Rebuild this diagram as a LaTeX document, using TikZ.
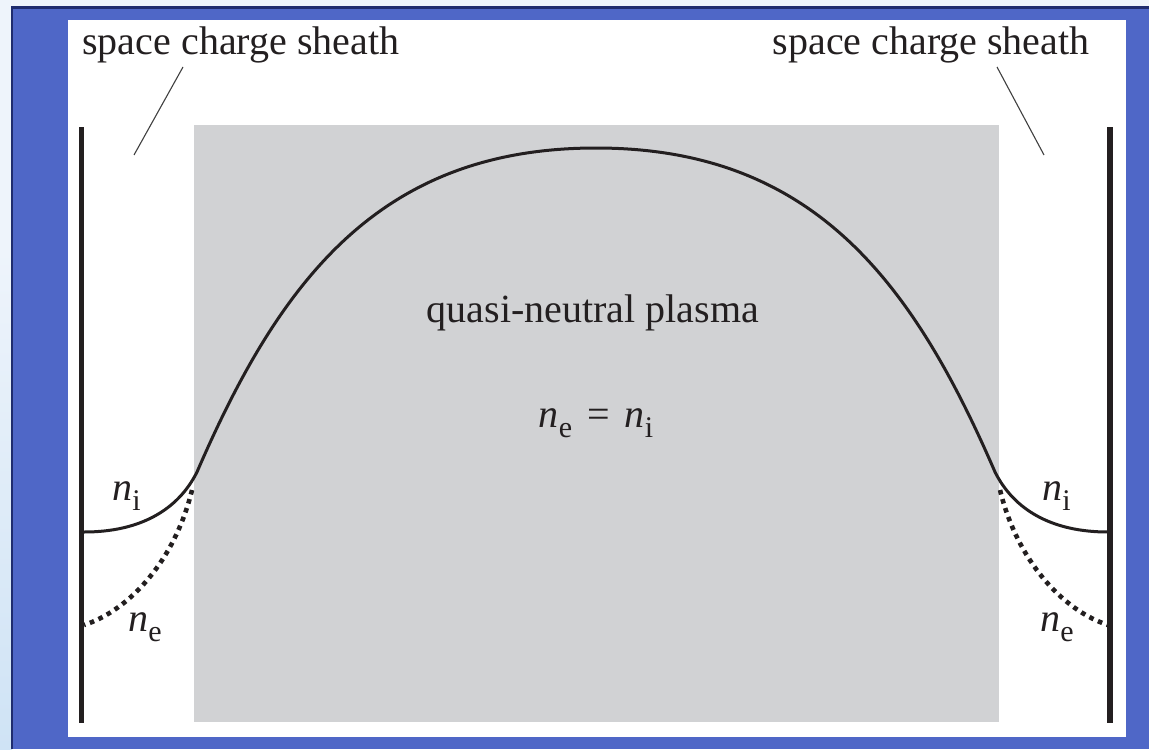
\documentclass[tikz,border=0pt]{standalone}
\usepackage{fontspec}
\setmainfont{Liberation Serif}
\usetikzlibrary{positioning}
\definecolor{slidebg}{HTML}{EEF4FB}
\definecolor{slidehaze}{HTML}{CFE3F5}
\definecolor{slideblue}{HTML}{4F67C7}
\definecolor{slidenavy}{HTML}{1F2C6E}
\definecolor{plasmagray}{HTML}{D1D2D4}
\definecolor{inkblack}{HTML}{231F20}
\tikzset{
  wallline/.style={line width=2.6pt, inkblack},
  ionprofile/.style={line width=1.5pt, inkblack},
  elecprofile/.style={line width=2.3pt, inkblack, dash pattern=on 2.3pt off 2.4pt},
  leader/.style={line width=0.55pt, black!75},
  bigtext/.style={font=\fontsize{20}{24}\selectfont, inner sep=0pt, text=inkblack}
}
\newcommand{\dens}[1]{\textit{n}\raisebox{-5pt}{\fontsize{15}{15}\selectfont #1}}

\begin{document}
\begin{tikzpicture}[x=0.5pt, y=-0.5pt]
  \useasboundingbox (0,0) rectangle (1149,749);
  % slide frame
  \fill[slidebg] (0,0) rectangle (1149,749);
  \shade[top color=slidebg, bottom color=slidehaze] (0,250) rectangle (12,749);
  \fill[slidenavy] (11,6) rectangle (1149,749);
  \fill[slideblue] (13,9) rectangle (1149,749);
  \fill[white] (68,20) rectangle (1126,737);
  \fill[plasmagray] (194,125) rectangle (999,722);

  % walls
  \draw[wallline] (81.5,127) -- (81.5,723);
  \draw[wallline] (1110,127) -- (1110,723);

  % labels
  \node[bigtext, anchor=base west] (lsheath) at (82,55) {space charge sheath};
  \node[bigtext, anchor=base east] (rsheath) at (1090,55) {space charge sheath};
  \node[bigtext, anchor=base] (plasma) at (593,322) {quasi-neutral plasma};
  \node[bigtext, anchor=base] (balance) at (596,427) {\dens{e}\hspace{7.5pt}=\hspace{7.5pt}\dens{i}};
  \node[bigtext, anchor=base west] (nil) at (112,500) {\dens{i}};
  \node[bigtext, anchor=base west] (nel) at (128,631) {\dens{e}};
  \node[bigtext, anchor=base west] (nir) at (1042,500) {\dens{i}};
  \node[bigtext, anchor=base west] (ner) at (1040,631) {\dens{e}};

  % leaders
  \coordinate (ltop) at (183,67);
  \coordinate (ltip) at (134,155);
  \coordinate (rtop) at (997,67);
  \coordinate (rtip) at (1044,155);
  \draw[leader] (ltop) -- (ltip);
  \draw[leader] (rtop) -- (rtip);

  % ion density
  \draw[ionprofile] (84,532) .. controls (140,532) and (178,510) .. (197,472)
    .. controls (280,280) and (380,148) .. (596,148)
    .. controls (812,148) and (912,280) .. (995,472)
    .. controls (1014,510) and (1052,532) .. (1108,532);

  % electron density
  \draw[elecprofile] (192,490) .. controls (175,560) and (130,610) .. (84,625);
  \draw[elecprofile] (1000,490) .. controls (1017,560) and (1062,610) .. (1108,625);
\end{tikzpicture}
\end{document}
